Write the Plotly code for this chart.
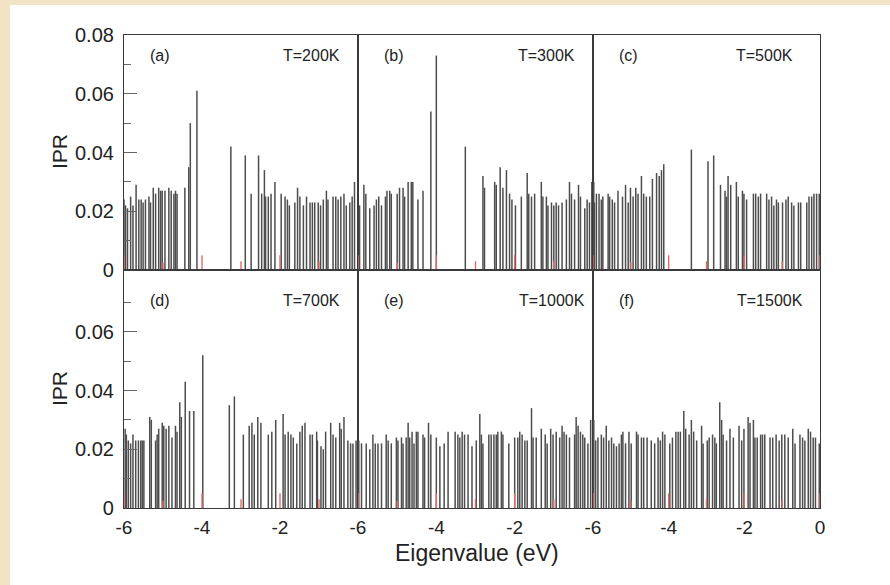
import plotly.graph_objects as go
from plotly.subplots import make_subplots

# ---------------- data ----------------
energy_a = [-6.00,-5.96,-5.91,-5.83,-5.77,-5.69,-5.62,-5.56,-5.51,-5.45,-5.36,-5.32,-5.25,-5.19,-5.11,-5.06,-5.02,-4.95,-4.85,-4.79,
            -4.72,-4.68,-4.64,-4.44,-4.34,-4.30,-4.13,-3.26,-2.89,-2.74,-2.55,-2.47,-2.40,-2.37,-2.30,-2.23,-2.13,-1.97,-1.87,-1.81,
            -1.76,-1.62,-1.55,-1.49,-1.40,-1.32,-1.23,-1.17,-1.11,-1.02,-0.96,-0.89,-0.81,-0.77,-0.64,-0.57,-0.51,-0.44,-0.36,-0.30,
            -0.21,-0.15,-0.09]
ipr_a = [0.024,0.022,0.021,0.025,0.022,0.029,0.024,0.024,0.023,0.024,0.025,0.023,0.028,0.026,0.028,0.027,0.027,0.027,0.028,0.027,
         0.026,0.027,0.026,0.028,0.035,0.050,0.061,0.042,0.039,0.026,0.039,0.026,0.034,0.025,0.025,0.026,0.030,0.026,0.025,0.024,
         0.022,0.023,0.028,0.025,0.022,0.025,0.023,0.023,0.023,0.023,0.022,0.024,0.027,0.024,0.025,0.025,0.024,0.025,0.026,0.022,
         0.023,0.025,0.030]

energy_b = [-5.96,-5.85,-5.80,-5.70,-5.59,-5.53,-5.47,-5.40,-5.30,-5.26,-5.19,-5.15,-5.00,-4.94,-4.85,-4.81,-4.72,-4.64,-4.60,-4.47,
            -4.34,-4.14,-4.00,-3.26,-2.81,-2.77,-2.51,-2.47,-2.37,-2.30,-2.21,-2.13,-2.07,-1.98,-1.83,-1.68,-1.64,-1.57,-1.49,-1.32,
            -1.28,-1.19,-1.15,-1.06,-1.00,-0.94,-0.88,-0.79,-0.68,-0.60,-0.55,-0.47,-0.37,-0.32,-0.21,-0.15,-0.09,-0.03]
ipr_b = [0.022,0.029,0.026,0.021,0.022,0.024,0.025,0.022,0.025,0.027,0.027,0.026,0.026,0.028,0.028,0.025,0.030,0.030,0.030,0.024,
         0.027,0.054,0.073,0.042,0.032,0.028,0.030,0.029,0.035,0.028,0.034,0.026,0.024,0.022,0.025,0.033,0.026,0.025,0.026,0.030,
         0.025,0.025,0.022,0.023,0.022,0.023,0.022,0.023,0.024,0.030,0.026,0.024,0.029,0.025,0.021,0.024,0.023,0.030]

energy_c = [-5.98,-5.96,-5.91,-5.84,-5.78,-5.74,-5.60,-5.56,-5.49,-5.43,-5.34,-5.22,-5.14,-5.07,-5.01,-4.94,-4.87,-4.81,-4.72,-4.66,
            -4.59,-4.50,-4.43,-4.32,-4.25,-4.19,-4.13,-3.40,-2.96,-2.81,-2.63,-2.51,-2.47,-2.43,-2.36,-2.21,-2.16,-2.05,-2.01,-1.94,
            -1.76,-1.70,-1.63,-1.57,-1.41,-1.35,-1.28,-1.22,-1.15,-1.10,-0.99,-0.90,-0.84,-0.75,-0.69,-0.57,-0.51,-0.35,-0.29,-0.22,
            -0.16,-0.09,-0.02]
ipr_c = [0.030,0.023,0.026,0.026,0.024,0.025,0.026,0.025,0.024,0.023,0.027,0.025,0.029,0.023,0.028,0.025,0.028,0.026,0.032,0.026,
         0.025,0.025,0.031,0.033,0.032,0.034,0.036,0.041,0.037,0.039,0.029,0.027,0.025,0.032,0.029,0.030,0.025,0.027,0.026,0.024,
         0.026,0.026,0.025,0.026,0.026,0.024,0.025,0.022,0.024,0.023,0.023,0.024,0.025,0.023,0.022,0.023,0.023,0.023,0.025,0.025,
         0.026,0.026,0.026]

energy_d = [-5.97,-5.94,-5.89,-5.83,-5.77,-5.70,-5.63,-5.57,-5.53,-5.49,-5.34,-5.30,-5.19,-5.15,-5.11,-5.02,-4.98,-4.92,-4.85,-4.77,
            -4.68,-4.64,-4.57,-4.53,-4.43,-4.32,-4.21,-3.98,-3.30,-3.17,-2.94,-2.79,-2.72,-2.66,-2.57,-2.49,-2.30,-2.21,-2.11,-1.92,
            -1.87,-1.79,-1.72,-1.66,-1.57,-1.49,-1.43,-1.36,-1.23,-1.17,-1.06,-1.04,-0.95,-0.89,-0.83,-0.70,-0.64,-0.57,-0.47,-0.43,
            -0.36,-0.26,-0.19,-0.13,-0.05]
ipr_d = [0.027,0.025,0.023,0.022,0.025,0.023,0.023,0.023,0.023,0.023,0.031,0.030,0.023,0.025,0.027,0.029,0.028,0.027,0.028,0.024,
         0.028,0.026,0.036,0.031,0.043,0.033,0.033,0.052,0.035,0.038,0.025,0.028,0.029,0.025,0.031,0.029,0.025,0.026,0.030,0.032,
         0.025,0.026,0.025,0.024,0.022,0.026,0.028,0.029,0.025,0.025,0.026,0.023,0.021,0.020,0.026,0.029,0.025,0.024,0.029,0.027,
         0.031,0.023,0.022,0.022,0.023]

energy_e = [-5.98,-5.91,-5.79,-5.70,-5.62,-5.56,-5.49,-5.40,-5.28,-5.23,-5.15,-5.02,-4.98,-4.89,-4.85,-4.77,-4.72,-4.68,-4.62,-4.57,
            -4.51,-4.47,-4.34,-4.30,-4.20,-4.14,-4.00,-3.91,-3.80,-3.70,-3.52,-3.45,-3.40,-3.34,-3.28,-3.19,-3.09,-2.98,-2.89,-2.85,
            -2.81,-2.66,-2.60,-2.53,-2.47,-2.43,-2.34,-2.30,-2.15,-2.00,-1.92,-1.87,-1.81,-1.74,-1.68,-1.57,-1.53,-1.45,-1.32,-1.22,
            -1.17,-1.08,-1.02,-0.94,-0.85,-0.79,-0.74,-0.68,-0.60,-0.47,-0.43,-0.38,-0.32,-0.26,-0.21,-0.13,-0.06]
ipr_e = [0.023,0.022,0.022,0.020,0.025,0.022,0.022,0.022,0.025,0.023,0.022,0.024,0.023,0.024,0.022,0.024,0.029,0.024,0.026,0.022,
         0.026,0.026,0.025,0.024,0.029,0.025,0.024,0.021,0.022,0.026,0.026,0.025,0.024,0.026,0.025,0.025,0.021,0.023,0.032,0.025,
         0.022,0.025,0.025,0.025,0.025,0.026,0.026,0.025,0.022,0.024,0.024,0.026,0.025,0.023,0.023,0.034,0.024,0.024,0.027,0.025,
         0.022,0.027,0.025,0.026,0.024,0.028,0.026,0.025,0.024,0.025,0.031,0.028,0.026,0.025,0.024,0.022,0.030]

energy_f = [-5.98,-5.93,-5.87,-5.78,-5.72,-5.65,-5.58,-5.51,-5.45,-5.38,-5.31,-5.25,-5.21,-5.14,-5.05,-4.99,-4.85,-4.81,-4.72,-4.66,
            -4.57,-4.46,-4.37,-4.28,-4.22,-4.16,-4.10,-3.97,-3.90,-3.81,-3.75,-3.69,-3.60,-3.55,-3.46,-3.40,-3.34,-3.26,-3.13,-3.09,
            -2.98,-2.93,-2.84,-2.78,-2.74,-2.65,-2.60,-2.56,-2.47,-2.38,-2.29,-2.14,-2.07,-2.01,-1.90,-1.85,-1.76,-1.72,-1.66,-1.57,
            -1.52,-1.46,-1.32,-1.25,-1.16,-1.08,-1.01,-0.93,-0.84,-0.72,-0.66,-0.53,-0.46,-0.40,-0.31,-0.25,-0.18,-0.12,-0.02]
ipr_f = [0.030,0.023,0.024,0.025,0.024,0.028,0.023,0.024,0.022,0.021,0.022,0.025,0.026,0.022,0.026,0.022,0.026,0.025,0.024,0.024,
         0.024,0.023,0.022,0.024,0.023,0.026,0.025,0.022,0.024,0.026,0.026,0.026,0.033,0.027,0.025,0.030,0.026,0.023,0.028,0.022,
         0.023,0.024,0.025,0.024,0.022,0.036,0.030,0.025,0.023,0.027,0.024,0.028,0.023,0.027,0.031,0.029,0.030,0.024,0.024,0.025,
         0.025,0.025,0.024,0.024,0.025,0.023,0.025,0.025,0.024,0.027,0.022,0.025,0.024,0.023,0.027,0.026,0.024,0.024,0.022]

red_energy = [-6, -5, -4, -3, -2, -1, 0]
red_ipr = [0.005, 0.0025, 0.005, 0.003, 0.005, 0.003, 0.005]

panel_tags = ["(a)", "(b)", "(c)", "(d)", "(e)", "(f)"]
temperatures = ["T=200K", "T=300K", "T=500K", "T=700K", "T=1000K", "T=1500K"]
energies = [energy_a, energy_b, energy_c, energy_d, energy_e, energy_f]
iprs = [ipr_a, ipr_b, ipr_c, ipr_d, ipr_e, ipr_f]

x_ticks = [-6, -4, -2]
x_ticks_last = [-6, -4, -2, 0]
y_ticks_top = [0, 0.02, 0.04, 0.06, 0.08]
y_ticks_bottom = [0, 0.02, 0.04, 0.06]
x_title = "Eigenvalue (eV)"
y_title = "IPR"

# ---------------- layout geometry ----------------
W, H = 890, 585
L, R, T, B = 124, 820, 35, 508
PW, PH = R - L, B - T


def px2x(px):
    return (px - L) / PW


def py2y(py):
    return (B - py) / PH


def stems(xs, ys):
    sx, sy = [], []
    for x, y in zip(xs, ys):
        sx += [x, x, None]
        sy += [0, y, None]
    return sx, sy


fig = make_subplots(rows=2, cols=3, horizontal_spacing=0, vertical_spacing=0,
                    column_widths=[234, 235, 227], row_heights=[235, 238])

FONT = "Liberation Sans, Arial, Helvetica, sans-serif"
LINE = "#3a3a3a"

for i in range(6):
    r, c = i // 3 + 1, i % 3 + 1
    sx, sy = stems(energies[i], iprs[i])
    fig.add_trace(go.Scatter(x=sx, y=sy, mode="lines", line=dict(color="#4d4d4d", width=1.5),
                             hoverinfo="skip", showlegend=False), row=r, col=c)
    rx, ry = stems(red_energy, red_ipr)
    fig.add_trace(go.Scatter(x=rx, y=ry, mode="lines", line=dict(color="#e46a72", width=1.4),
                             hoverinfo="skip", showlegend=False), row=r, col=c)

    top = r == 1
    ymax = 0.08 if top else 0.08 * 238 / 235
    xa = dict(range=[-6, 0], showgrid=False, zeroline=False, showline=True, mirror=True,
              linecolor=LINE, linewidth=1.2, ticks="", fixedrange=True)
    if top:
        xa.update(showticklabels=False)
    else:
        tv = x_ticks_last if c == 3 else x_ticks
        xa.update(tickmode="array", tickvals=tv, ticktext=[str(v) for v in tv],
                  tickfont=dict(family=FONT, size=19, color="#222"), ticklabelstandoff=2)
    fig.update_xaxes(row=r, col=c, **xa)

    ya = dict(range=[0, ymax], showgrid=False, zeroline=False, showline=True, mirror=True,
              linecolor=LINE, linewidth=1.2, fixedrange=True)
    if c == 1:
        tv = y_ticks_top if top else y_ticks_bottom
        ya.update(tickmode="array", tickvals=tv,
                  ticktext=["0" if v == 0 else f"{v:.2f}" for v in tv],
                  ticks="inside", ticklen=13, tickcolor="#666", tickwidth=1,
                  tickfont=dict(family=FONT, size=20, color="#222"),
                  ticklabelstandoff=5,
                  minor=dict(tickmode="array", tickvals=[0.01, 0.03, 0.05, 0.07],
                             ticks="inside", ticklen=7, tickcolor="#666", tickwidth=1))
    else:
        ya.update(showticklabels=False, ticks="")
    fig.update_yaxes(row=r, col=c, **ya)

# panel annotations
left_px = [148, 382, 617, 148, 382, 617]
right_px = [342, 577, 795, 342, 587, 805]
row_py = [55, 55, 55, 300, 300, 300]
annotations = []
for i in range(6):
    annotations.append(dict(text=panel_tags[i], x=px2x(left_px[i]), y=py2y(row_py[i]), xref="paper", yref="paper",
                            xanchor="left", yanchor="middle", showarrow=False,
                            font=dict(family=FONT, size=16, color="#222")))
    annotations.append(dict(text=temperatures[i], x=px2x(right_px[i]), y=py2y(row_py[i]), xref="paper", yref="paper",
                            xanchor="right", yanchor="middle", showarrow=False,
                            font=dict(family=FONT, size=16, color="#222")))
for cy in [152, 389]:
    annotations.append(dict(text=y_title, x=px2x(59), y=py2y(cy), xref="paper", yref="paper",
                            xanchor="center", yanchor="middle", textangle=-90, showarrow=False,
                            font=dict(family=FONT, size=21, color="#222")))
annotations.append(dict(text=x_title, x=px2x(477), y=py2y(553), xref="paper", yref="paper",
                        xanchor="center", yanchor="middle", showarrow=False,
                        font=dict(family=FONT, size=23, color="#222")))

beige = "#f1e3c3"
shapes = [
    dict(type="rect", xref="paper", yref="paper", x0=px2x(0), x1=px2x(W), y0=py2y(5), y1=py2y(0),
         fillcolor=beige, line=dict(width=0), layer="below"),
    dict(type="rect", xref="paper", yref="paper", x0=px2x(0), x1=px2x(10), y0=py2y(H), y1=py2y(0),
         fillcolor=beige, line=dict(width=0), layer="below"),
]

fig.update_layout(width=W, height=H, margin=dict(l=L, r=W - R, t=T, b=H - B),
                  paper_bgcolor="white", plot_bgcolor="white",
                  annotations=annotations, shapes=shapes, showlegend=False)

fig.write_html("out.html")
